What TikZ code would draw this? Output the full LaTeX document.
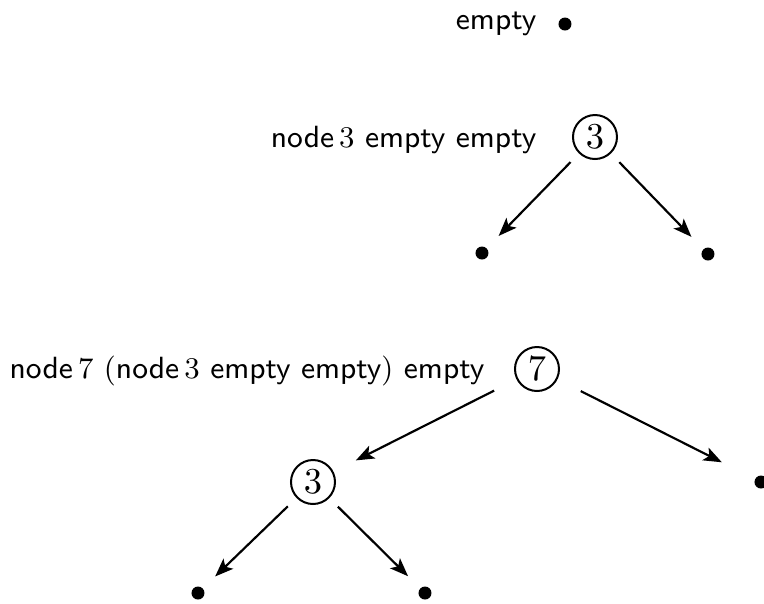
\documentclass[tikz,border=0pt]{standalone}
\usetikzlibrary{arrows.meta}

\begin{document}
\begin{tikzpicture}[x=0.3pt,y=-0.3pt,
  leaf/.style={circle,fill,inner sep=0pt,minimum size=3.9pt},
  tnode/.style={circle,draw,line width=0.6pt,inner sep=0pt,minimum size=13.2pt,
    font=\fontsize{10.5}{12}\selectfont},
  term/.style={anchor=east,inner sep=0pt,font=\fontsize{9.2}{11}\selectfont\sffamily},
  edge/.style={-{Stealth[length=5.5pt,width=4.2pt,inset=1.3pt]},line width=0.65pt}]
\useasboundingbox (0,0) rectangle (764,603);

  % empty
  \node[term] (E) at (537,24) {empty};
  \node[leaf] (L0) at (565,24) {};

  % node 3 empty empty
  \node[term] (T1) at (537,140) {node\,$3$ empty empty};
  \node[tnode] (N3) at (595,137) {$3$};
  \node[leaf] (L1) at (482,253) {};
  \node[leaf] (L2) at (708,254) {};
  \draw[edge,shorten <=3.6pt,shorten >=5pt] (N3) -- (L1);
  \draw[edge,shorten <=3.6pt,shorten >=5pt] (N3) -- (L2);

  % node 7 (node 3 empty empty) empty
  \node[term] (T2) at (485,371) {node\,$7$ $($node\,$3$ empty empty$)$ empty};
  \node[tnode] (N7) at (537,369) {$7$};
  \node[tnode] (N3b) at (313,482) {$3$};
  \node[leaf] (L3) at (761,482) {};
  \node[leaf] (L4) at (198,593) {};
  \node[leaf] (L5) at (425,593) {};
  \draw[edge,shorten <=7.5pt,shorten >=7.5pt] (N7) -- (N3b);
  \draw[edge,shorten <=7.8pt,shorten >=11pt] (N7) -- (L3);
  \draw[edge,shorten <=3.6pt,shorten >=5pt] (N3b) -- (L4);
  \draw[edge,shorten <=3.6pt,shorten >=5pt] (N3b) -- (L5);
\end{tikzpicture}
\end{document}
